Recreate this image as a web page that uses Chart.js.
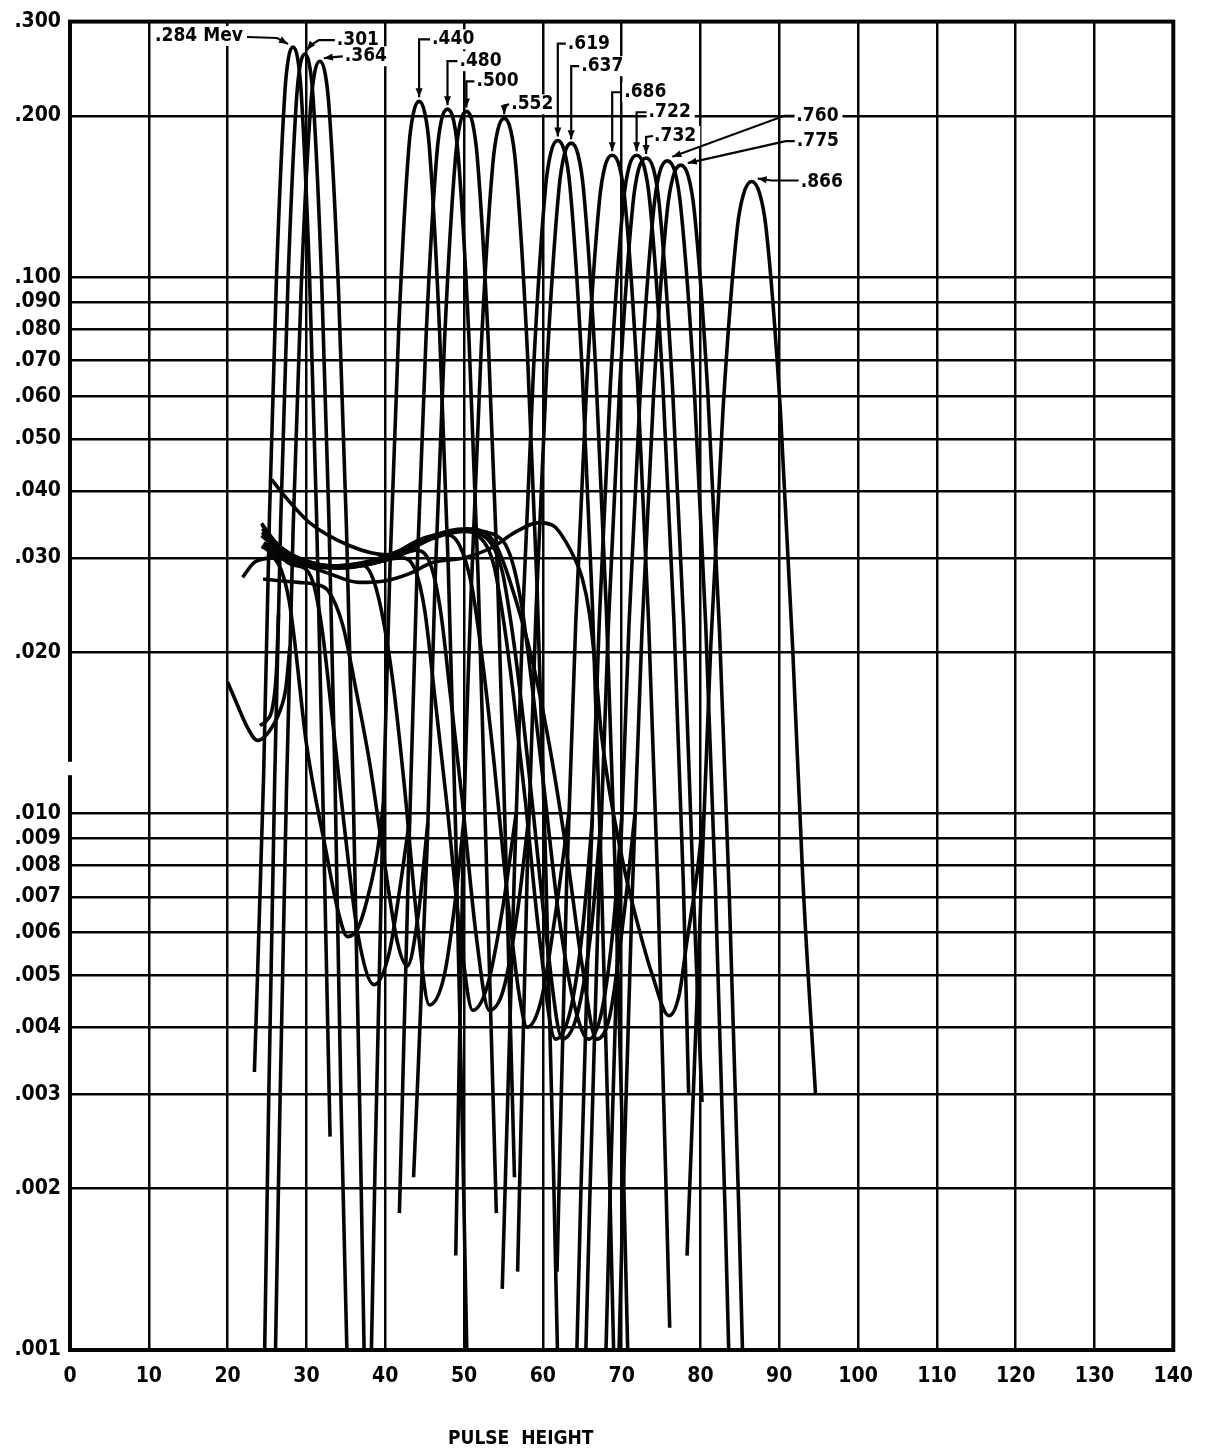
<!DOCTYPE html>
<html>
<head>
<meta charset="utf-8">
<title>Pulse height spectra</title>
<script src="https://cdn.jsdelivr.net/npm/chart.js@4.4.1/dist/chart.umd.min.js"></script>
<style>
  html, body { margin: 0; padding: 0; background: #fff; }
  #wrap { width: 1207px; height: 1455px; }
</style>
</head>
<body>
<div id="wrap"><canvas id="myChart" width="1207" height="1455"></canvas></div>
<script>
// axis ticks
var xTickValues = [0, 10, 20, 30, 40, 50, 60, 70, 80, 90, 100, 110, 120, 130, 140];
var yTickValues = [0.001, 0.002, 0.003, 0.004, 0.005, 0.006, 0.007, 0.008, 0.009,
                   0.01, 0.02, 0.03, 0.04, 0.05, 0.06, 0.07, 0.08, 0.09, 0.1, 0.2, 0.3];
var yTickLabels = ['.001', '.002', '.003', '.004', '.005', '.006', '.007', '.008', '.009',
                   '.010', '.020', '.030', '.040', '.050', '.060', '.070', '.080', '.090', '.100', '.200', '.300'];

// gamma energies (Mev), one per peak
var energyLabels = ['.284 Mev', '.301', '.364', '.440', '.480', '.500', '.552', '.619',
                    '.637', '.686', '.722', '.732', '.760', '.775', '.866'];

// photopeaks, [pulse height, value]
var pk284 = [[23.4,.0033],[24.57,.0118],[25.32,.0363],[26.21,.101],[27.26,.221],[27.7,.2555],[28.3,.269],[28.9,.2555],[29.34,.221],[30.39,.101],[31.28,.0363],[32.03,.0118],[33.0,.0025]];
var pk301 = [[24.6,.0008],[25.21,.0029],[25.97,.0115],[26.74,.0352],[27.66,.0979],[28.73,.214],[29.19,.248],[29.8,.261],[30.41,.248],[30.87,.214],[31.94,.0979],[32.86,.0352],[33.63,.0115],[34.39,.0029],[35.3,.0008]];
var pk364 = [[25.95,.00078],[26.63,.00281],[27.47,.0111],[28.32,.0342],[29.33,.0949],[30.52,.207],[31.02,.240],[31.7,.253],[32.38,.240],[32.88,.207],[34.07,.0949],[35.08,.0342],[35.93,.0111],[36.77,.00281],[37.45,.00078]];
var pk440 = [[38.01,.00066],[38.75,.00236],[39.67,.00935],[40.6,.0288],[41.71,.0799],[43.0,.175],[43.56,.202],[44.3,.213],[45.04,.202],[45.6,.175],[46.89,.0799],[48.0,.0288],[48.93,.00935],[49.85,.00236],[50.59,.00066]];
var pk480 = [[41.8,.0018],[43.05,.00904],[44.02,.0278],[45.18,.0773],[46.54,.169],[47.12,.196],[47.9,.206],[48.68,.196],[49.26,.169],[50.62,.0773],[51.78,.0278],[52.75,.00904],[54.1,.0018]];
var pk500 = [[43.6,.0021],[45.35,.00896],[46.34,.0275],[47.53,.0765],[48.91,.167],[49.51,.194],[50.3,.204],[51.09,.194],[51.69,.167],[53.07,.0765],[54.26,.0275],[55.25,.00896],[56.4,.0021]];
var pk552 = [[48.95,.0015],[49.9,.00869],[50.94,.0267],[52.19,.0743],[53.64,.162],[54.27,.188],[55.1,.198],[55.93,.188],[56.56,.162],[58.01,.0743],[59.26,.0267],[60.3,.00869],[61.34,.0022],[62.17,.00061]];
var pk619 = [[54.85,.0013],[56.4,.0079],[57.5,.0243],[58.82,.0675],[60.36,.148],[61.02,.171],[61.9,.18],[62.78,.171],[63.44,.148],[64.98,.0675],[66.3,.0243],[67.4,.0079],[68.5,.002],[69.38,.00056]];
var pk637 = [[56.8,.0014],[58.02,.00781],[59.14,.024],[60.48,.0668],[62.04,.146],[62.71,.169],[63.6,.178],[64.49,.169],[65.16,.146],[66.72,.0668],[68.06,.024],[69.18,.00781],[70.29,.00198],[71.18,.00055]];
var pk686 = [[61.8,.0014],[63.02,.00742],[64.18,.0228],[65.57,.0634],[67.18,.139],[67.88,.161],[68.8,.169],[69.72,.161],[70.42,.139],[72.03,.0634],[73.42,.0228],[74.58,.00742],[76.1,.0011]];
var pk722 = [[63.84,.00052],[64.79,.00188],[65.97,.00742],[67.16,.0228],[68.58,.0634],[70.24,.139],[70.95,.161],[71.9,.169],[72.85,.161],[73.56,.139],[75.22,.0634],[76.64,.0228],[77.83,.00742],[78.5,.003]];
var pk732 = [[64.97,.00052],[65.93,.00185],[67.12,.00733],[68.32,.0225],[69.75,.0626],[71.43,.137],[72.14,.159],[73.1,.167],[74.06,.159],[74.77,.137],[76.45,.0626],[77.88,.0225],[79.08,.00733],[80.2,.0029]];
var pk760 = [[67.5,.00051],[68.48,.00183],[69.7,.00724],[70.92,.0223],[72.38,.0619],[74.09,.135],[74.82,.157],[75.8,.165],[76.78,.157],[77.51,.135],[79.22,.0619],[80.68,.0223],[81.9,.00724],[83.12,.00183],[84.1,.00051]];
var pk775 = [[69.14,.0005],[70.12,.0018],[71.35,.00711],[72.58,.0219],[74.06,.0608],[75.78,.133],[76.52,.154],[77.5,.162],[78.48,.154],[79.22,.133],[80.94,.0608],[82.42,.0219],[83.65,.00711],[84.88,.0018],[85.86,.0005]];
var pk866 = [[78.3,.0015],[80.0,.00663],[81.3,.0204],[82.86,.0566],[84.68,.124],[85.46,.143],[86.5,.151],[87.54,.143],[88.32,.124],[90.14,.0566],[91.7,.0204],[93.0,.0075],[94.6,.003]];

// compton part + valley, each one runs into the foot of its peak
var ct301 = [[24.1,.0146],[24.9,.0149],[25.7,.0158],[26.2,.0185],[26.45,.0235]];
var ct364 = [[20.0,.0176],[21.2,.016],[22.5,.0145],[23.8,.0137],[25.2,.0142],[26.6,.0155],[27.4,.0172],[27.9,.0205]];
var ct440 = [[24.5,.0318],[25.5,.0305],[26.8,.0285],[27.8,.025],[28.5,.021],[30.0,.0135],[32.5,.0085],[34.0,.0066],[35.2,.0059],[36.5,.0061],[37.8,.007],[39.0,.0085],[39.8,.0105]];
var ct480 = [[24.4,.0335],[26.0,.031],[28.0,.0292],[30.0,.0285],[31.0,.0265],[32.0,.022],[33.3,.015],[34.8,.0095],[36.5,.006],[38.6,.0048],[40.5,.0055],[42.0,.0075],[43.1,.0098]];
var ct500 = [[24.5,.0274],[26.5,.0272],[29.0,.027],[31.0,.0268],[32.8,.026],[34.6,.0225],[36.3,.017],[38.0,.0125],[39.7,.0085],[41.5,.0058],[42.8,.0052],[44.2,.0065],[45.4,.0096]];
var ct552 = [[24.4,.0345],[26.0,.032],[28.0,.0302],[31.0,.0292],[34.0,.029],[36.5,.0292],[38.2,.028],[39.5,.024],[41.0,.0175],[42.5,.011],[44.0,.0064],[45.6,.0044],[47.5,.005],[49.0,.0071],[50.0,.0098]];
var ct619 = [[24.3,.0348],[26.0,.0322],[28.0,.0305],[31.0,.0293],[35.0,.0288],[39.0,.0295],[42.0,.03],[43.8,.0285],[45.0,.024],[46.3,.0165],[47.8,.0105],[49.5,.006],[51.1,.0043],[53.0,.0048],[55.0,.0068],[56.6,.01]];
var ct637 = [[24.3,.033],[26.0,.0315],[29.0,.0298],[33.0,.0288],[37.0,.029],[41.0,.03],[44.0,.031],[45.8,.029],[47.0,.024],[48.3,.0165],[49.8,.0105],[51.5,.006],[53.2,.0043],[55.0,.0047],[56.8,.0066],[58.2,.0098]];
var ct686 = [[24.4,.034],[26.5,.0315],[29.0,.03],[33.0,.029],[37.0,.0292],[41.0,.0305],[44.5,.0325],[47.5,.0332],[49.5,.0315],[51.0,.0265],[52.3,.0195],[53.8,.0125],[55.5,.007],[57.0,.0046],[58.0,.004],[59.8,.0045],[61.6,.0065],[63.3,.01]];
var ct722 = [[24.5,.033],[27.0,.0305],[30.0,.0293],[34.0,.0288],[38.0,.0293],[42.0,.0308],[46.0,.0328],[49.5,.0337],[52.0,.0328],[53.8,.029],[55.0,.023],[56.3,.0165],[57.8,.0105],[59.5,.006],[61.6,.0038],[63.5,.0043],[65.0,.006],[66.3,.0098]];
var ct732 = [[24.6,.032],[27.0,.0302],[30.0,.029],[34.0,.0287],[38.0,.0292],[42.0,.0305],[46.0,.0326],[50.0,.0336],[53.0,.0325],[54.8,.0285],[56.0,.0225],[57.3,.016],[58.8,.01],[60.5,.0058],[62.5,.0038],[64.5,.0043],[66.2,.0062],[67.4,.0098]];
var ct760 = [[24.3,.0315],[27.0,.03],[30.0,.0292],[34.0,.029],[38.0,.0296],[42.0,.031],[46.0,.033],[50.0,.0338],[53.5,.0333],[55.8,.0305],[57.3,.0245],[58.6,.0175],[60.2,.011],[62.0,.0065],[64.0,.0044],[65.8,.0038],[67.5,.0043],[69.0,.0063],[70.0,.0098]];
var ct775 = [[25.6,.042],[27.0,.0395],[30.4,.0349],[35.5,.0316],[40.1,.0304],[44.0,.032],[48.1,.0337],[50.3,.034],[52.8,.0333],[54.1,.0316],[55.7,.0275],[58.7,.0192],[60.8,.0135],[63.0,.0085],[65.0,.0052],[66.8,.0038],[68.5,.0042],[70.3,.0065],[71.7,.01]];
var ct866 = [[21.9,.0276],[23.5,.0295],[26.0,.03],[30.0,.029],[33.0,.028],[36.7,.027],[40.1,.0272],[43.0,.028],[46.0,.0294],[50.0,.03],[53.6,.0314],[56.5,.0335],[59.5,.0349],[61.5,.0343],[63.0,.032],[64.0,.03],[65.0,.0275],[65.9,.0237],[66.8,.0179],[67.4,.0142],[70.1,.0082],[72.2,.0061],[73.9,.005],[76.0,.0042],[77.3,.0046],[78.3,.0058],[79.6,.0078],[80.4,.01]];

var peaks = [pk284, pk301, pk364, pk440, pk480, pk500, pk552, pk619, pk637, pk686, pk722, pk732, pk760, pk775, pk866];
var continua = [ct301, ct364, ct440, ct480, ct500, ct552, ct619, ct637, ct686, ct722, ct732, ct760, ct775, ct866];

var INK = '#050505';
var LETTER = '"DejaVu Sans Condensed", "DejaVu Sans", sans-serif';

// label placement: offsets in px from the top of each peak (text left/middle, leader path, last point = arrow tip)
var noteLayout = [
  {tx: -138, ty: -11, path: [[-46, -10], [-16, -9], [-5, -3]]},
  {tx: 32, ty: -14, path: [[30, -14], [14, -14], [6, -9], [2, -4]]},
  {tx: 25, ty: -5, path: [[23, -5], [11, -4], [4, -3]]},
  {tx: 13, ty: -62, path: [[11, -62], [0, -62], [0, -4]]},
  {tx: 12, ty: -48, path: [[10, -48], [0, -48], [0, -4]]},
  {tx: 10, ty: -30, path: [[8, -30], [0, -30], [0, -4]]},
  {tx: 7, ty: -14, path: [[5, -14], [0, -13], [0, -4]]},
  {tx: 10, ty: -97, path: [[8, -97], [0, -97], [0, -4]]},
  {tx: 10, ty: -77, path: [[8, -77], [0, -77], [0, -4]]},
  {tx: 12, ty: -63, path: [[10, -63], [0, -63], [0, -4]]},
  {tx: 12, ty: -43, path: [[10, -43], [0, -43], [0, -4]]},
  {tx: 8, ty: -22, path: [[7, -22], [0, -21], [0, -4]]},
  {tx: 129, ty: -45, path: [[127, -45], [117, -45], [5, -4]]},
  {tx: 116, ty: -24, path: [[114, -24], [105, -24], [7, -2]]},
  {tx: 49, ty: 1, path: [[47, -1], [20, -1], [6, -3]]}
];

function toPoints(arr) {
  return arr.map(function (p) { return {x: p[0], y: p[1]}; });
}

function topOf(arr) {
  var best = arr[0];
  arr.forEach(function (p) { if (p[1] > best[1]) best = p; });
  return best;
}

var datasets = peaks.concat(continua).map(function (arr) {
  return {
    data: toPoints(arr),
    borderColor: INK,
    borderWidth: 3.6,
    pointRadius: 0,
    fill: false,
    cubicInterpolationMode: 'monotone'
  };
});

// white page, frame and the small break in the left border
var framePlugin = {
  id: 'frame',
  beforeDraw: function (chart) {
    var ctx = chart.ctx;
    ctx.save();
    ctx.fillStyle = '#fff';
    ctx.fillRect(0, 0, chart.width, chart.height);
    ctx.restore();
  },
  afterDraw: function (chart) {
    var ctx = chart.ctx, a = chart.chartArea, ys = chart.scales.y, xs = chart.scales.x;
    ctx.save();
    ctx.strokeStyle = INK;
    ctx.lineWidth = 4;
    ctx.strokeRect(a.left, a.top, a.right - a.left, a.bottom - a.top);
    var g1 = ys.getPixelForValue(0.0125), g2 = ys.getPixelForValue(0.0118);
    ctx.fillStyle = '#fff';
    ctx.fillRect(a.left - 4, g1, 8, g2 - g1);
    // axis title
    ctx.fillStyle = INK;
    ctx.font = 'bold 19px ' + LETTER;
    ctx.textAlign = 'center';
    ctx.textBaseline = 'middle';
    ctx.fillText('PULSE  HEIGHT', xs.getPixelForValue(57.2), chart.height - 16);
    ctx.restore();
  }
};

// energy labels with leaders and arrow heads
var notesPlugin = {
  id: 'notes',
  afterDatasetsDraw: function (chart) {
    var ctx = chart.ctx, xs = chart.scales.x, ys = chart.scales.y;
    ctx.save();
    ctx.font = 'bold 19px ' + LETTER;
    ctx.textBaseline = 'middle';
    peaks.forEach(function (pk, i) {
      var n = noteLayout[i];
      var top = topOf(pk);
      var px = xs.getPixelForValue(top[0]);
      var py = ys.getPixelForValue(top[1]);
      var text = energyLabels[i];
      var w = ctx.measureText(text).width;
      ctx.fillStyle = '#fff';
      ctx.fillRect(px + n.tx - 2, py + n.ty - 10, w + 6, 20);
      ctx.fillStyle = INK;
      ctx.fillText(text, px + n.tx, py + n.ty);

      ctx.beginPath();
      n.path.forEach(function (p, j) {
        if (j === 0) ctx.moveTo(px + p[0], py + p[1]);
        else ctx.lineTo(px + p[0], py + p[1]);
      });
      ctx.strokeStyle = INK;
      ctx.lineWidth = 2.2;
      ctx.stroke();

      var a = n.path[n.path.length - 2], b = n.path[n.path.length - 1];
      var ang = Math.atan2(b[1] - a[1], b[0] - a[0]);
      var tx = px + b[0], ty = py + b[1];
      ctx.beginPath();
      ctx.moveTo(tx, ty);
      ctx.lineTo(tx - 9 * Math.cos(ang) + 3.5 * Math.sin(ang), ty - 9 * Math.sin(ang) - 3.5 * Math.cos(ang));
      ctx.lineTo(tx - 9 * Math.cos(ang) - 3.5 * Math.sin(ang), ty - 9 * Math.sin(ang) + 3.5 * Math.cos(ang));
      ctx.closePath();
      ctx.fill();
    });
    ctx.restore();
  }
};

var ctx = document.getElementById('myChart');
var myChart = new Chart(ctx, {
  type: 'line',
  data: { datasets: datasets },
  options: {
    responsive: false,
    animation: false,
    devicePixelRatio: 1,
    layout: { padding: { top: 14, right: 32, left: 0, bottom: 0 } },
    plugins: {
      legend: { display: false },
      tooltip: { enabled: false }
    },
    scales: {
      x: {
        type: 'linear',
        min: 0,
        max: 140,
        afterBuildTicks: function (scale) {
          scale.ticks = xTickValues.map(function (v) { return {value: v}; });
        },
        afterFit: function (scale) { scale.height = 105; },
        grid: { color: INK, lineWidth: 2.5, drawTicks: false },
        border: { display: false },
        ticks: {
          padding: 14,
          color: INK,
          font: { family: LETTER, size: 21, weight: 'bold' }
        }
      },
      y: {
        type: 'logarithmic',
        min: 0.001,
        max: 0.3,
        afterBuildTicks: function (scale) {
          scale.ticks = yTickValues.map(function (v) { return {value: v}; });
        },
        afterFit: function (scale) { scale.width = 70; },
        grid: { color: INK, lineWidth: 2.5, drawTicks: false },
        border: { display: false },
        ticks: {
          padding: 9,
          color: INK,
          font: { family: LETTER, size: 21, weight: 'bold' },
          callback: function (value) {
            for (var i = 0; i < yTickValues.length; i++) {
              if (Math.abs(yTickValues[i] - value) < 1e-9) return yTickLabels[i];
            }
            return '';
          }
        }
      }
    }
  },
  plugins: [framePlugin, notesPlugin]
});
</script>
</body>
</html>
